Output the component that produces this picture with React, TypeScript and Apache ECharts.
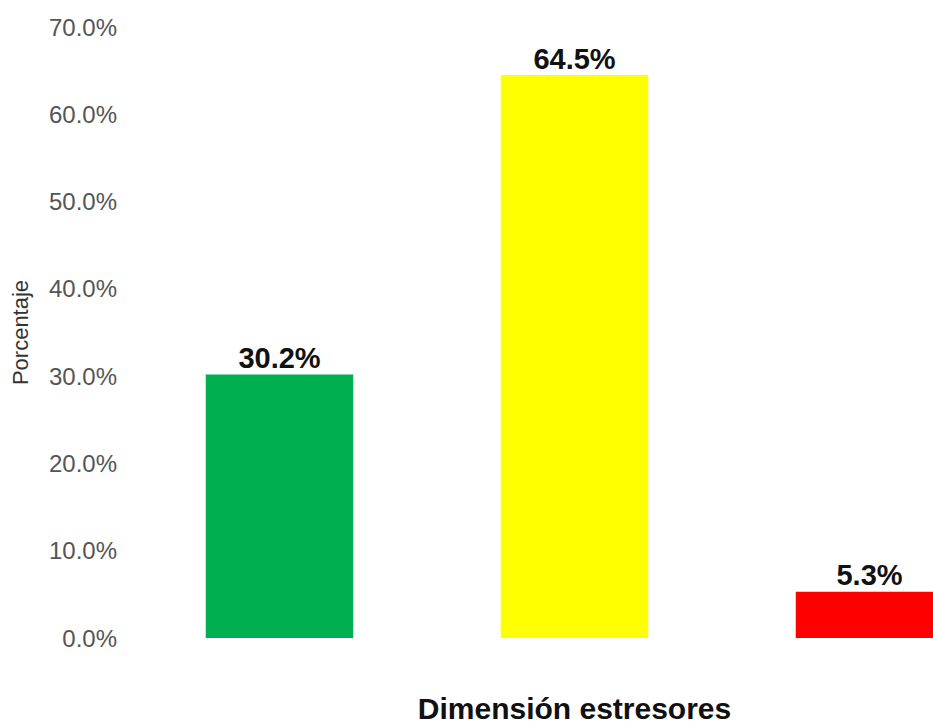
import React, { useEffect, useRef } from "react";
import * as echarts from "echarts";

const categories = ["Bajo", "Medio", "Alto"];
const values = [30.2, 64.5, 5.3];
const barColors = ["#00B050", "#FFFF00", "#FF0000"];
const yTicks = [0, 10, 20, 30, 40, 50, 60, 70];

const FONT = "'Liberation Sans', Arial, sans-serif";

export default function App() {
  const ref = useRef<HTMLDivElement>(null);

  useEffect(() => {
    if (!ref.current) return;
    const chart = echarts.init(ref.current, undefined, { renderer: "svg" });
    chart.setOption({
      animation: false,
      textStyle: { fontFamily: FONT },
      grid: { left: 132, right: 3, top: 27, bottom: 86, containLabel: false, outerBoundsMode: "none" },
      xAxis: {
        type: "category",
        data: categories,
        axisLine: { show: false },
        axisTick: { show: false },
        axisLabel: { show: false },
        name: "Dimensión estresores",
        nameLocation: "middle",
        nameGap: 55,
        nameTextStyle: { fontSize: 30, fontWeight: "bold", color: "#111", fontFamily: FONT },
      },
      yAxis: {
        type: "value",
        min: yTicks[0],
        max: yTicks[yTicks.length - 1],
        interval: 10,
        axisLine: { show: false },
        axisTick: { show: false },
        splitLine: { show: false },
        axisLabel: {
          formatter: (v: number) => v.toFixed(1) + "%",
          fontSize: 24,
          color: "#555",
          margin: 15,
          fontFamily: FONT,
        },
        name: "Porcentaje",
        nameLocation: "middle",
        nameGap: 101,
        nameRotate: 90,
        nameTextStyle: { fontSize: 22, color: "#333", fontFamily: FONT },
      },
      series: [
        {
          type: "bar",
          barWidth: "50%",
          data: values.map((v, i) => ({ value: v, itemStyle: { color: barColors[i] } })),
          label: {
            show: true,
            position: "top",
            distance: 2,
            formatter: (p: any) => p.value.toFixed(1) + "%",
            fontSize: 29,
            fontWeight: "bold",
            color: "#111",
            fontFamily: FONT,
          },
        },
      ],
    });
    return () => chart.dispose();
  }, []);

  return (
    <div style={{ position: "absolute", left: 0, top: 0, width: 933, height: 724, overflow: "hidden" }}>
      <div ref={ref} style={{ width: 1020, height: 724 }} />
    </div>
  );
}
